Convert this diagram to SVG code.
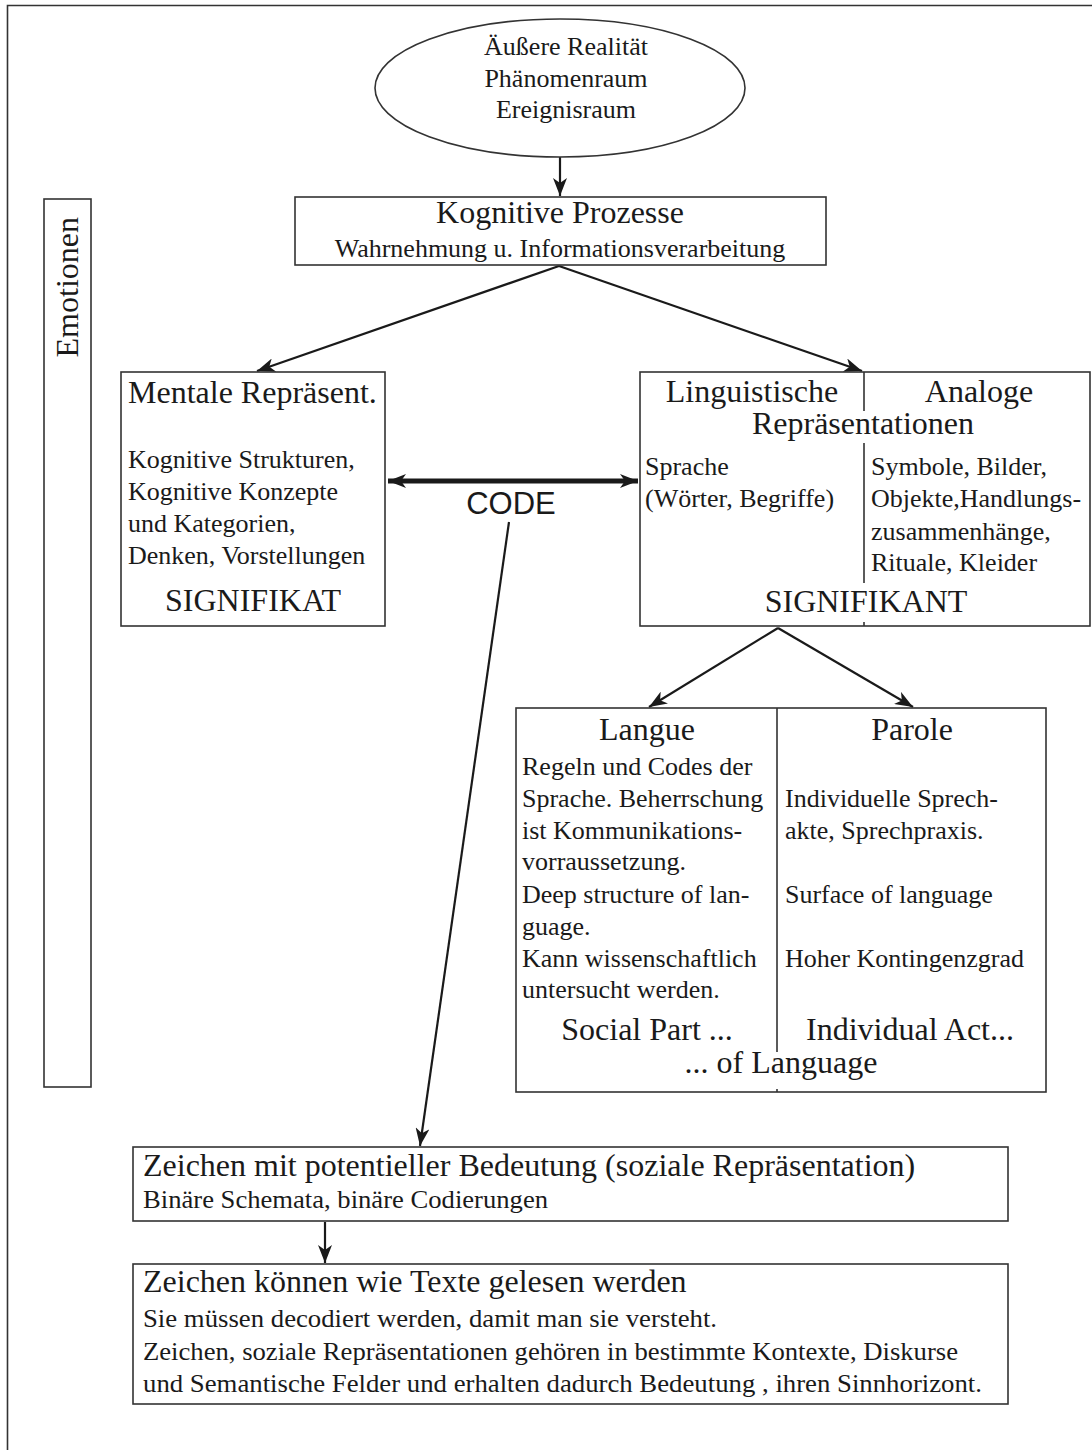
<svg xmlns="http://www.w3.org/2000/svg" width="1092" height="1450" viewBox="0 0 1092 1450">
<defs>
<style>
.box{fill:#fff;stroke:#333;stroke-width:1.6}
.div{stroke:#333;stroke-width:1.6;fill:none}
.t{font-family:"Liberation Serif","Times New Roman",serif;fill:#1a1a1a}
.h{font-size:32px}
.b{font-size:26px}
.m{text-anchor:middle}
.con{stroke:#1a1a1a;stroke-width:2.2;fill:none}
</style>
<marker id="ah" markerUnits="userSpaceOnUse" markerWidth="20" markerHeight="14" refX="18" refY="7" orient="auto">
<path d="M0,0 L18,7 L0,14 L5,7 Z" fill="#1a1a1a"/>
</marker>
<marker id="ahs" markerUnits="userSpaceOnUse" markerWidth="20" markerHeight="14" refX="18" refY="7" orient="auto-start-reverse">
<path d="M0,0 L18,7 L0,14 L5,7 Z" fill="#1a1a1a"/>
</marker>
</defs>
<rect width="1092" height="1450" fill="#fff"/>
<g id="frame">
<path class="div" d="M7.5,1450 V5.5 H1092"/>
</g>
<g id="connectors">
<line class="con" x1="560" y1="157" x2="560" y2="196" marker-end="url(#ah)"/>
<line class="con" x1="559" y1="266" x2="257" y2="371" marker-end="url(#ah)"/>
<line class="con" x1="559" y1="266" x2="862" y2="371" marker-end="url(#ah)"/>
<line stroke="#1a1a1a" stroke-width="5" x1="388" y1="481" x2="638" y2="481" marker-start="url(#ahs)" marker-end="url(#ahs)"/>
<line class="con" x1="509" y1="522" x2="420" y2="1146" marker-end="url(#ah)"/>
<line class="con" x1="778" y1="628" x2="649" y2="707" marker-end="url(#ah)"/>
<line class="con" x1="778" y1="628" x2="913" y2="707" marker-end="url(#ah)"/>
<line class="con" x1="325" y1="1222" x2="325" y2="1263" marker-end="url(#ah)"/>
<text x="511" y="514" font-family="'Liberation Sans',Arial,sans-serif" font-size="31" text-anchor="middle" fill="#1a1a1a">CODE</text>
</g>
<g id="emotionen">
<rect class="box" x="44" y="199" width="47" height="888"/>
<text class="t h" transform="translate(78,217) rotate(-90)" text-anchor="end">Emotionen</text>
</g>
<g id="realitaet">
<ellipse class="box" cx="560" cy="88" rx="185" ry="69"/>
<text class="t b m" x="566" y="55">Äußere Realität</text>
<text class="t b m" x="566" y="87">Phänomenraum</text>
<text class="t b m" x="566" y="118">Ereignisraum</text>
</g>
<g id="kognitive">
<rect class="box" x="295" y="197" width="531" height="68"/>
<text class="t h m" x="560" y="223">Kognitive Prozesse</text>
<text class="t b m" x="560" y="257">Wahrnehmung u. Informationsverarbeitung</text>
</g>
<g id="mentale">
<rect class="box" x="121" y="372" width="264" height="254"/>
<text class="t h" x="128" y="403">Mentale Repräsent.</text>
<text class="t b" x="128" y="468">Kognitive Strukturen,</text>
<text class="t b" x="128" y="500">Kognitive Konzepte</text>
<text class="t b" x="128" y="532">und Kategorien,</text>
<text class="t b" x="128" y="564">Denken, Vorstellungen</text>
<text class="t h m" x="253" y="611">SIGNIFIKAT</text>
</g>
<g id="signifikant">
<rect class="box" x="640" y="372" width="450" height="254"/>
<path class="div" d="M864,372 V411 M864,443 V583 M864,622 V626"/>
<text class="t h m" x="752" y="402">Linguistische</text>
<text class="t h m" x="979" y="402">Analoge</text>
<text class="t h m" x="863" y="434">Repräsentationen</text>
<text class="t b" x="645" y="475">Sprache</text>
<text class="t b" x="645" y="507">(Wörter, Begriffe)</text>
<text class="t b" x="871" y="475">Symbole, Bilder,</text>
<text class="t b" x="871" y="507">Objekte,Handlungs-</text>
<text class="t b" x="871" y="540">zusammenhänge,</text>
<text class="t b" x="871" y="571">Rituale, Kleider</text>
<text class="t h m" x="866" y="612">SIGNIFIKANT</text>
</g>
<g id="langue-parole">
<rect class="box" x="516" y="708" width="530" height="384"/>
<path class="div" d="M777,708 V1052 M777,1089 V1092"/>
<text class="t h m" x="647" y="740">Langue</text>
<text class="t h m" x="912" y="740">Parole</text>
<text class="t b" x="522" y="775">Regeln und Codes der</text>
<text class="t b" x="522" y="807">Sprache. Beherrschung</text>
<text class="t b" x="522" y="839">ist Kommunikations-</text>
<text class="t b" x="522" y="870">vorraussetzung.</text>
<text class="t b" x="522" y="903">Deep structure of lan-</text>
<text class="t b" x="522" y="935">guage.</text>
<text class="t b" x="522" y="967">Kann wissenschaftlich</text>
<text class="t b" x="522" y="998">untersucht werden.</text>
<text class="t b" x="785" y="807">Individuelle Sprech-</text>
<text class="t b" x="785" y="839">akte, Sprechpraxis.</text>
<text class="t b" x="785" y="903">Surface of language</text>
<text class="t b" x="785" y="967">Hoher Kontingenzgrad</text>
<text class="t h m" x="647" y="1040">Social Part ...</text>
<text class="t h m" x="910" y="1040">Individual Act...</text>
<text class="t h m" x="781" y="1073">... of Language</text>
</g>
<g id="zeichen-bedeutung">
<rect class="box" x="133" y="1147" width="875" height="74"/>
<text class="t h" x="143" y="1176">Zeichen mit potentieller Bedeutung (soziale Repräsentation)</text>
<text class="t b" x="143" y="1208" textLength="405" lengthAdjust="spacingAndGlyphs">Binäre Schemata, binäre Codierungen</text>
</g>
<g id="zeichen-texte">
<rect class="box" x="133" y="1264" width="875" height="140"/>
<text class="t h" x="143" y="1292">Zeichen können wie Texte gelesen werden</text>
<text class="t b" x="143" y="1327" textLength="574" lengthAdjust="spacingAndGlyphs">Sie müssen decodiert werden, damit man sie versteht.</text>
<text class="t b" x="143" y="1360" textLength="815" lengthAdjust="spacingAndGlyphs">Zeichen, soziale Repräsentationen gehören in bestimmte Kontexte, Diskurse</text>
<text class="t b" x="143" y="1392" textLength="839" lengthAdjust="spacingAndGlyphs">und Semantische Felder und erhalten dadurch Bedeutung , ihren Sinnhorizont.</text>
</g>
</svg>
